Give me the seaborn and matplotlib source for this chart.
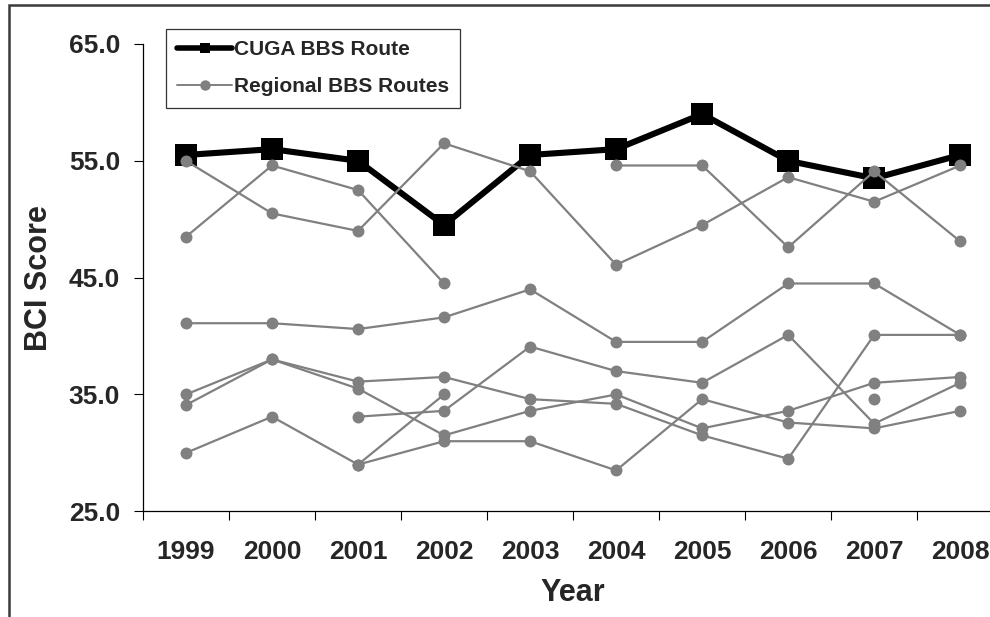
import numpy as np
import pandas as pd
import matplotlib
matplotlib.use("Agg")
import matplotlib.pyplot as plt
from matplotlib.lines import Line2D
from matplotlib.patches import Rectangle
from matplotlib.font_manager import FontProperties
from matplotlib.ticker import FixedLocator, FormatStrFormatter
import seaborn as sns

nan = np.nan

# Survey years
years = [1999, 2000, 2001, 2002, 2003, 2004, 2005, 2006, 2007, 2008]

# Bird Community Index for the CUGA route
cuga_route = [55.5, 56.0, 55.0, 49.5, 55.5, 56.0, 59.0, 55.0, 53.5, 55.5]

# Bird Community Index for the regional routes (nan = not surveyed)
regional_1 = [55.0, 50.5, 49.0, 56.5, 54.1, 46.1, 49.5, 53.6, 51.5, 54.6]
regional_2 = [48.5, 54.6, 52.5, 44.5, nan, 54.6, 54.6, 47.6, 54.1, 48.1]
regional_3 = [41.1, 41.1, 40.6, 41.6, 44.0, 39.5, 39.5, 44.5, 44.5, 40.1]
regional_4 = [35.0, 38.0, 36.1, 36.5, 34.6, 34.2, 31.5, 29.5, 40.1, 40.1]
regional_5 = [34.1, 38.0, 35.5, 31.5, 33.6, 35.0, 32.1, 33.6, 36.0, 36.5]
regional_6 = [30.0, 33.1, 29.0, 31.0, 31.0, 28.5, 34.6, 32.6, 32.1, 33.6]
regional_7 = [nan, nan, 33.1, 33.6, 39.1, 37.0, 36.0, 40.1, 32.5, 36.0]
regional_8 = [nan, nan, 29.0, 35.0, nan, nan, nan, nan, 34.6, nan]

regional_routes = [regional_1, regional_2, regional_3, regional_4,
                   regional_5, regional_6, regional_7, regional_8]

y_ticks = [25, 35, 45, 55, 65]

legend_labels = ["CUGA BBS Route", "Regional BBS Routes"]

# Long-form table; every unbroken run of surveys becomes its own unit so
# that missing years leave a gap in the line.
rows = []
seg = 0
for r, values in enumerate(regional_routes):
    prev_missing = True
    for yr, v in zip(years, values):
        if np.isnan(v):
            prev_missing = True
            continue
        if prev_missing:
            seg += 1
            prev_missing = False
        rows.append({"year": yr, "score": v, "route": r, "segment": seg})
regional_df = pd.DataFrame(rows)
cuga_df = pd.DataFrame({"year": years, "score": cuga_route})

sns.set_theme(style="white")
plt.rcParams["font.family"] = ["Liberation Sans", "DejaVu Sans"]
plt.rcParams["font.weight"] = "bold"

fig = plt.figure(figsize=(9.9, 6.17), dpi=100)
ax = fig.add_axes([0.1444, 0.1713, 0.869, 0.7574])

gray = "#808080"

sns.lineplot(data=cuga_df, x="year", y="score", ax=ax, color="black",
             linewidth=4.4, marker="s", markersize=16.5, markeredgewidth=0,
             markerfacecolor="black", estimator=None, legend=False, zorder=2)

sns.lineplot(data=regional_df, x="year", y="score", units="segment",
             estimator=None, ax=ax, color=gray, linewidth=1.6, marker="o",
             markersize=8.6, markeredgewidth=0, markerfacecolor=gray,
             legend=False, zorder=3)

ax.set_xlim(years[0] - 0.5, years[-1] + 0.5)
ax.set_ylim(y_ticks[0], y_ticks[-1])

ax.yaxis.set_major_locator(FixedLocator(y_ticks))
ax.yaxis.set_major_formatter(FormatStrFormatter("%.1f"))
ax.xaxis.set_major_locator(FixedLocator(years))
ax.xaxis.set_major_formatter(FormatStrFormatter("%d"))
ax.xaxis.set_minor_locator(FixedLocator([y - 0.5 for y in years] + [years[-1] + 0.5]))

ax.tick_params(axis="y", which="major", direction="out", length=6.5,
               width=0.8, color="black", labelsize=19, pad=10, left=True)
ax.tick_params(axis="x", which="major", length=0, labelsize=19, pad=21, bottom=True)
ax.tick_params(axis="x", which="minor", direction="out", length=6.5,
               width=0.8, color="black", bottom=True)
for lbl in ax.get_xticklabels() + ax.get_yticklabels():
    lbl.set_fontweight("bold")

for side in ["top", "right"]:
    ax.spines[side].set_visible(False)
for side in ["left", "bottom"]:
    ax.spines[side].set_color("black")
    ax.spines[side].set_linewidth(0.9)

ax.set_xlabel("Year", fontsize=22, fontweight="bold")
ax.set_ylabel("BCI Score", fontsize=22, fontweight="bold")
ax.xaxis.set_label_coords(0.5, -0.142)
ax.yaxis.set_label_coords(-0.103, 0.5)

handles = [
    Line2D([], [], color="black", linewidth=4.0, marker="s", markersize=7.5,
           markeredgewidth=0),
    Line2D([], [], color=gray, linewidth=1.4, marker="o", markersize=7.5,
           markeredgewidth=0),
]
legend_font = FontProperties(family="Liberation Sans", weight="bold", size=15)
leg = ax.legend(handles, legend_labels, loc="upper left",
                bbox_to_anchor=(166 / 990, 1 - 29 / 617),
                bbox_transform=fig.transFigure, borderaxespad=0,
                frameon=True, fancybox=False, edgecolor="black",
                prop=legend_font, handlelength=2.6, handletextpad=0.1,
                labelspacing=0.85, borderpad=0.55)
for txt in leg.get_texts():
    txt.set_fontweight("bold")
leg.get_frame().set_linewidth(0.9)
leg.set_zorder(5)

# Outer chart frame
fig.patches.append(Rectangle((9 / 990, -0.2), 1.2, 1.2 - 5 / 617,
                             transform=fig.transFigure, fill=False,
                             edgecolor="#3a3a3a", linewidth=1.8,
                             clip_on=False))

fig.savefig("out.png", dpi=100)
